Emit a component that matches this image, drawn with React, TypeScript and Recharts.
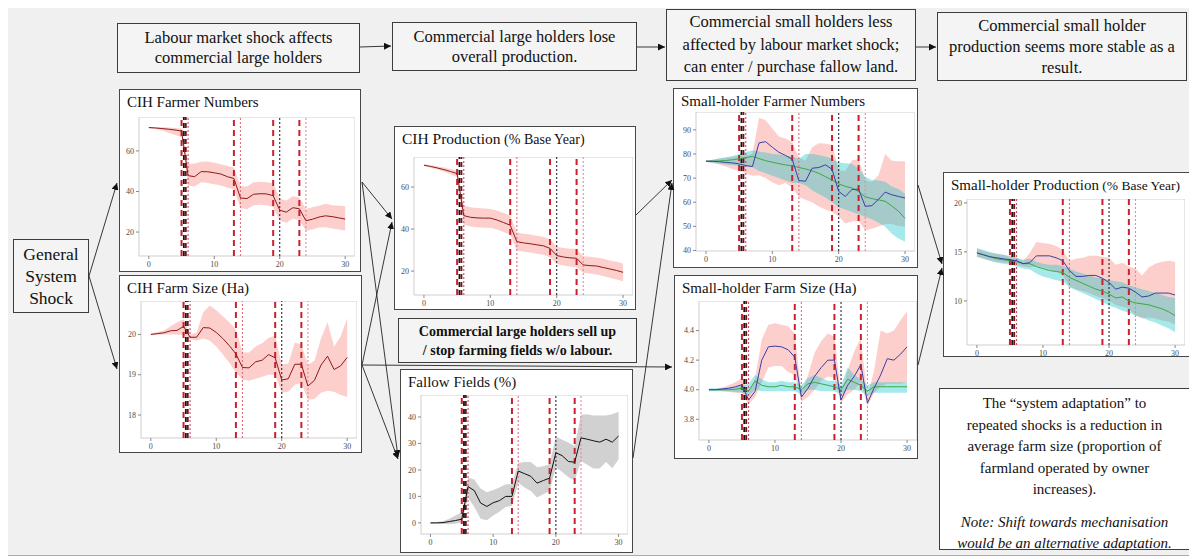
import React from 'react';
import { ComposedChart, Area, Line, XAxis, YAxis, ReferenceLine, ReferenceArea } from 'recharts';

// simulation years 0..30
const YEARS = [0, 1, 2, 3, 4, 5, 6, 7, 8, 9, 10, 11, 12, 13, 14, 15, 16, 17, 18, 19, 20, 21, 22, 23, 24, 25, 26, 27, 28, 29, 30];
const X_TICKS = [0, 10, 20, 30];

// shock markers
const SHOCK_STARTS = [5, 13, 19, 23];
const SHOCK_EXTRA = [5.35, 5.65];
const SHOCK_ENDS = [6, 14, 20, 24];

// CIH Farmer Numbers
const cihFarmersMean = [71.5, 71.3, 71, 70.7, 70.3, 69.8, 47.8, 47.3, 49.8, 49.7, 49.2, 48.6, 47.3, 46.4, 36.8, 36.5, 38.6, 38.9, 38.8, 37.9, 30.8, 29.8, 32.0, 31.5, 25.6, 26.3, 27.4, 28.0, 27.6, 27.0, 26.4];
const cihFarmersHi = [71.8, 71.8, 71.6, 71.5, 71.3, 71.0, 53.5, 53.8, 54.6, 54.8, 54.2, 53.4, 52.6, 51.8, 42.6, 42.4, 44.5, 44.8, 44.6, 44.2, 36.4, 35.6, 37.6, 37.0, 31.4, 32.2, 33.0, 34.0, 33.2, 33.0, 32.8];
const cihFarmersLo = [71.2, 70.8, 70.2, 69.0, 67.8, 66.8, 43.0, 42.4, 44.6, 44.2, 43.6, 43.0, 42.0, 41.0, 31.8, 31.2, 33.2, 33.4, 33.2, 32.2, 25.6, 24.6, 26.6, 26.0, 20.6, 21.2, 22.2, 22.4, 21.8, 21.2, 20.6];

// CIH Farm Size (Ha)
const cihSizeMean = [20.0, 20.02, 20.04, 20.09, 20.1, 20.2, 19.93, 19.93, 20.17, 20.16, 20.05, 19.9, 19.72, 19.52, 19.18, 19.17, 19.32, 19.36, 19.5, 19.42, 18.87, 18.9, 19.26, 19.26, 18.72, 18.86, 19.24, 19.46, 19.13, 19.22, 19.43];
const cihSizeHi = [20.02, 20.06, 20.1, 20.2, 20.3, 20.38, 20.0, 20.05, 20.55, 20.72, 20.6, 20.45, 20.3, 20.12, 19.55, 19.55, 19.7, 19.78, 19.92, 19.97, 19.25, 19.28, 19.8, 19.75, 19.25, 19.35, 19.9, 20.3, 19.7, 19.95, 20.4];
const cihSizeLo = [19.98, 19.99, 20.0, 20.0, 20.0, 19.98, 19.88, 19.85, 19.9, 19.85, 19.7, 19.5, 19.3, 19.05, 18.88, 18.85, 18.9, 18.95, 19.0, 19.0, 18.55, 18.58, 18.75, 18.8, 18.38, 18.4, 18.55, 18.6, 18.58, 18.5, 18.45];

// CIH Production (% base year)
const cihProdMean = [70.4, 69.8, 69.1, 68.3, 67.4, 66.4, 46.4, 45.6, 45.3, 45.2, 45.2, 44.3, 43.1, 41.8, 34.0, 33.4, 33.0, 32.5, 32.0, 30.8, 27.4, 26.7, 26.3, 26.1, 22.9, 22.6, 22.4, 21.7, 21.0, 20.3, 19.4];
const cihProdHi = [70.8, 70.4, 69.9, 69.3, 68.6, 67.8, 51.2, 50.4, 50.0, 49.8, 49.6, 48.8, 47.6, 46.4, 38.4, 37.8, 37.4, 36.8, 36.3, 35.2, 31.6, 31.0, 30.6, 30.6, 27.0, 26.8, 26.5, 25.8, 25.0, 24.4, 23.6];
const cihProdLo = [70.0, 69.2, 68.3, 67.3, 66.1, 64.6, 42.2, 41.2, 40.8, 40.6, 40.6, 39.8, 38.6, 37.4, 29.8, 29.2, 28.8, 28.2, 27.8, 26.6, 23.4, 22.6, 22.2, 21.8, 19.2, 18.8, 18.4, 17.6, 16.8, 16.0, 15.2];

// Fallow Fields (%)
const fallowMean = [0, 0, 0.1, 0.5, 0.9, 1.4, 13.7, 12.2, 7.5, 6.2, 7.6, 8.4, 10.0, 10.0, 19.6, 18.6, 17.6, 15.0, 16.0, 16.9, 26.5, 25.4, 23.2, 22.9, 32.1, 31.6, 31.0, 30.5, 31.6, 30.5, 32.8];
const fallowHi = [0.2, 0.3, 0.6, 1.6, 2.8, 4.0, 17.0, 16.4, 13.0, 11.6, 12.4, 13.4, 14.6, 14.6, 22.6, 23.0, 23.0, 21.0, 21.4, 22.2, 32.6, 31.4, 30.4, 29.0, 40.8, 41.0, 40.6, 40.6, 40.6, 41.0, 42.0];
const fallowLo = [-0.2, -0.3, -0.4, -0.5, -0.3, 0.2, 9.5, 6.0, 1.6, 1.0, 2.8, 4.2, 6.0, 6.4, 15.2, 13.4, 12.0, 9.6, 10.8, 12.0, 21.0, 19.2, 17.2, 16.0, 23.4, 22.0, 20.5, 20.5, 23.0, 20.6, 24.0];

// Small-holder Farmer Numbers
const shFarmersBlue = [77.0, 77.0, 76.8, 76.5, 76.3, 75.9, 75.2, 74.8, 84.6, 85.1, 82.8, 80.7, 79.4, 77.8, 69.0, 68.7, 74.1, 74.4, 75.5, 73.7, 64.5, 62.4, 65.3, 65.4, 58.3, 58.6, 61.2, 64.2, 63.1, 62.4, 61.8];
const shFarmersGreen = [77.0, 77.0, 77.1, 77.3, 77.6, 78.0, 78.5, 79.0, 78.1, 77.2, 76.6, 76.0, 75.5, 75.0, 74.4, 73.8, 73.0, 72.0, 70.6, 69.2, 67.6, 66.6, 65.9, 64.4, 62.3, 61.5, 61.0, 60.4, 58.5, 56.3, 53.3];
const shFarmersRedHi = [77.2, 77.6, 78.0, 78.4, 78.8, 79.2, 79.4, 80.0, 95.0, 94.0, 90.6, 87.2, 86.4, 85.0, 78.4, 77.2, 82.8, 84.5, 84.2, 83.8, 73.2, 73.0, 77.4, 77.8, 69.2, 68.4, 71.2, 80.0, 77.2, 77.0, 77.0];
const shFarmersRedLo = [76.8, 76.2, 75.6, 74.8, 73.8, 73.0, 72.0, 71.0, 71.2, 70.0, 68.2, 67.0, 68.0, 66.0, 62.2, 61.0, 60.0, 58.2, 57.0, 56.0, 54.2, 51.2, 52.0, 52.2, 48.4, 49.0, 50.0, 51.0, 51.0, 50.2, 50.0];
const shFarmersCyanHi = [77.2, 77.6, 78.2, 78.6, 79.2, 80.0, 80.8, 81.5, 81.0, 80.6, 80.0, 79.8, 79.4, 79.0, 78.0, 80.0, 80.0, 79.6, 79.0, 78.0, 76.5, 76.2, 76.0, 74.0, 70.6, 69.2, 69.0, 68.5, 66.5, 65.5, 63.5];
const shFarmersCyanLo = [76.8, 76.4, 76.0, 75.6, 75.3, 75.0, 74.8, 74.5, 73.0, 72.0, 71.0, 70.0, 69.0, 68.0, 68.0, 67.0, 65.0, 63.4, 62.0, 60.0, 58.0, 57.0, 56.0, 55.0, 54.0, 53.0, 51.5, 50.0, 47.0, 45.0, 43.6];

// Small-holder Farm Size (Ha)
const shSizeBlue = [4.0, 4.0, 4.005, 4.01, 4.02, 4.034, 3.93, 3.99, 4.2, 4.29, 4.295, 4.29, 4.27, 4.22, 3.95, 4.01, 4.09, 4.15, 4.2, 4.2, 3.93, 4.03, 4.09, 4.17, 3.91, 4.01, 4.1, 4.21, 4.2, 4.24, 4.29];
const shSizeGreen = [4.0, 4.0, 4.0, 4.0, 4.003, 4.01, 3.99, 4.06, 4.03, 4.02, 4.02, 4.03, 4.02, 4.02, 4.0, 4.04, 4.05, 4.04, 4.03, 4.02, 4.0, 4.07, 4.05, 4.03, 3.99, 4.02, 4.02, 4.02, 4.02, 4.02, 4.02];
const shSizeRedHi = [4.0, 4.005, 4.015, 4.03, 4.05, 4.08, 3.97, 4.08, 4.34, 4.44, 4.45, 4.44, 4.43, 4.38, 3.98, 4.1, 4.25, 4.33, 4.38, 4.36, 3.97, 4.13, 4.26, 4.35, 3.95, 4.13, 4.4, 4.38, 4.4, 4.47, 4.53];
const shSizeRedLo = [4.0, 3.995, 3.99, 3.985, 3.98, 3.98, 3.9, 3.95, 4.05, 4.15, 4.16, 4.16, 4.12, 4.1, 3.92, 3.95, 4.0, 4.06, 4.09, 4.08, 3.91, 3.97, 4.0, 4.05, 3.89, 3.98, 4.02, 4.04, 4.04, 4.04, 4.05];
const shSizeCyanHi = [4.01, 4.01, 4.01, 4.015, 4.02, 4.03, 4.04, 4.1, 4.07, 4.05, 4.05, 4.06, 4.05, 4.05, 4.03, 4.08, 4.1, 4.08, 4.06, 4.06, 4.03, 4.15, 4.1, 4.07, 4.03, 4.05, 4.05, 4.05, 4.05, 4.05, 4.05];
const shSizeCyanLo = [3.99, 3.99, 3.99, 3.99, 3.985, 3.98, 3.96, 4.0, 3.99, 3.99, 3.99, 3.99, 3.99, 3.99, 3.97, 4.0, 4.0, 3.99, 3.99, 3.99, 3.97, 4.0, 4.0, 3.99, 3.96, 3.98, 3.98, 3.98, 3.98, 3.98, 3.98];

// Small-holder Production (% base year)
const shProdBlue = [14.9, 14.7, 14.5, 14.4, 14.3, 14.2, 14.1, 13.8, 13.9, 14.6, 14.6, 14.6, 14.4, 14.1, 13.1, 12.5, 12.5, 12.6, 12.6, 12.3, 11.9, 11.2, 11.4, 11.3, 10.9, 10.4, 10.5, 10.8, 10.8, 10.8, 10.6];
const shProdGreen = [14.9, 14.7, 14.5, 14.3, 14.2, 14.1, 14.0, 13.8, 13.8, 13.5, 13.3, 13.1, 13.0, 12.9, 12.4, 12.1, 11.8, 11.5, 11.2, 11.0, 10.7, 10.3, 10.4, 10.0, 9.8, 9.7, 9.6, 9.4, 9.2, 8.9, 8.5];
const shProdRedHi = [15.3, 15.1, 14.9, 14.8, 14.7, 14.6, 14.4, 14.1, 14.9, 16.0, 15.9, 15.8, 15.6, 15.2, 14.1, 14.3, 14.4, 14.6, 14.6, 14.5, 14.4, 13.7, 13.9, 13.5, 13.3, 12.6, 13.4, 13.8, 14.0, 14.1, 14.0];
const shProdRedLo = [14.5, 14.3, 14.1, 14.0, 13.9, 13.9, 13.7, 13.5, 13.4, 13.6, 13.4, 13.2, 13.0, 12.6, 11.5, 11.2, 11.0, 10.8, 10.5, 10.3, 10.0, 9.6, 9.4, 9.2, 8.5, 8.2, 8.3, 8.2, 8.0, 7.9, 7.6];
const shProdCyanHi = [15.4, 15.2, 15.0, 14.8, 14.7, 14.5, 14.4, 14.2, 14.3, 14.0, 13.8, 13.7, 13.7, 13.6, 13.3, 13.0, 12.8, 12.6, 12.4, 12.3, 12.1, 12.0, 11.9, 11.6, 11.4, 11.2, 11.0, 10.8, 10.6, 10.4, 10.3];
const shProdCyanLo = [14.5, 14.3, 14.1, 13.9, 13.8, 13.7, 13.5, 13.3, 13.2, 12.8, 12.5, 12.3, 12.1, 12.0, 11.4, 11.1, 10.8, 10.5, 10.2, 9.9, 9.5, 9.3, 9.0, 8.8, 8.5, 8.3, 8.0, 7.8, 7.5, 7.2, 6.8];

const SERIF = '"Liberation Serif", "DejaVu Serif", serif';
const RED_FILL = '#F8766D';
const CYAN_FILL = '#00BFC4';
const END_COLORS = ['#c8506a', '#e0707f', '#2a2a35', '#e88a98'];

type Band = { key: string; lo: number[]; hi: number[]; fill: string; opacity: number };
type Mean = { key: string; values: number[]; stroke: string };

interface PanelProps {
  title: string;
  sub?: string;
  titleSize: number;
  box: [number, number, number, number];
  plot: [number, number, number, number];
  yDomain: [number, number];
  yTicks: number[];
  decimals?: number;
  bands: Band[];
  means: Mean[];
}

const YW = 22;
const XH = 14;

function ChartPanel({ title, sub, titleSize, box, plot, yDomain, yTicks, decimals = 0, bands, means }: PanelProps) {
  const data = YEARS.map((yr, i) => {
    const row: Record<string, number | number[]> = { year: yr };
    for (const b of bands) row[b.key] = [b.lo[i], b.hi[i]];
    for (const m of means) row[m.key] = m.values[i];
    return row;
  });

  const xTick = (p: any) => (
    <text x={p.x} y={p.y} dy="0.72em" textAnchor="middle" fontSize={8} fill="#4d4d4d" fontFamily={SERIF}>
      {p.payload.value}
    </text>
  );
  const yTick = (p: any) => (
    <text x={p.x} y={p.y} dy="0.34em" textAnchor="end" fontSize={8} fill="#4d4d4d" fontFamily={SERIF}>
      {Number(p.payload.value).toFixed(decimals)}
    </text>
  );

  return (
    <>
      <div
        style={{
          position: 'absolute',
          left: box[0],
          top: box[1],
          width: box[2],
          height: box[3],
          border: '1.5px solid #474747',
          background: '#fff',
          boxSizing: 'border-box',
        }}
      >
        <div style={{ position: 'absolute', left: 7, top: 3, fontSize: titleSize, lineHeight: '18px', whiteSpace: 'nowrap', color: '#111' }}>
          {title}
          {sub ? <span style={{ fontSize: titleSize - 1.5 }}> {sub}</span> : null}
        </div>
      </div>
      <div style={{ position: 'absolute', left: plot[0] - YW, top: plot[1] }}>
        <ComposedChart width={plot[2] + YW} height={plot[3] + XH} data={data} margin={{ top: 0, right: 0, bottom: 0, left: 0 }}>
          <XAxis
            dataKey="year"
            type="number"
            domain={[-1.5, 31.5]}
            ticks={X_TICKS}
            interval={0}
            allowDataOverflow
            height={XH}
            tickSize={3}
            axisLine={false}
            stroke="#888"
            tickLine={{ stroke: '#888' }}
            tick={xTick}
          />
          <YAxis
            type="number"
            domain={yDomain}
            ticks={yTicks}
            interval={0}
            allowDataOverflow
            width={YW}
            tickSize={3}
            axisLine={false}
            stroke="#888"
            tickLine={{ stroke: '#888' }}
            tick={yTick}
          />
          <ReferenceArea x1={-1.5} x2={31.5} y1={yDomain[0]} y2={yDomain[1]} fill="#fff" fillOpacity={0} stroke="#cfcfcf" />
          {bands.map((b) => (
            <Area
              key={b.key}
              type="linear"
              dataKey={b.key}
              stroke="none"
              fill={b.fill}
              fillOpacity={b.opacity}
              isAnimationActive={false}
              dot={false}
              activeDot={false}
            />
          ))}
          {SHOCK_STARTS.map((x) => (
            <ReferenceLine key={`s${x}`} x={x} stroke="#c8202e" strokeWidth={2} strokeDasharray="6 4" />
          ))}
          {SHOCK_EXTRA.map((x, i) => (
            <ReferenceLine key={`e${x}`} x={x} stroke={i === 0 ? '#151515' : '#7a0c14'} strokeWidth={1.8} strokeDasharray="5 3" />
          ))}
          {SHOCK_ENDS.map((x, i) => (
            <ReferenceLine key={`d${x}`} x={x} stroke={END_COLORS[i]} strokeWidth={1.1} strokeDasharray="2 2" />
          ))}
          {means.map((m) => (
            <Line
              key={m.key}
              type="linear"
              dataKey={m.key}
              stroke={m.stroke}
              strokeWidth={1}
              dot={false}
              activeDot={false}
              isAnimationActive={false}
            />
          ))}
        </ComposedChart>
      </div>
    </>
  );
}

type Pt = [number, number];
const ARROWS: Array<[Pt, Pt]> = [
  [[360, 47], [391, 46]],
  [[637, 47], [665, 47]],
  [[916, 47], [936, 47]],
  [[89, 276], [117, 183]],
  [[89, 276], [117, 369]],
  [[362, 182], [392, 219]],
  [[362, 182], [398, 457]],
  [[362, 365], [392, 222]],
  [[362, 365], [398, 459]],
  [[362, 365], [672, 367]],
  [[636, 215], [672, 180]],
  [[633, 458], [672, 183]],
  [[918, 185], [942, 264]],
  [[918, 365], [942, 268]],
];

function TextBox({ x, y, w, h, lines, size, lh, weight }: { x: number; y: number; w: number; h: number; lines: string[]; size: number; lh: number; weight?: number }) {
  return (
    <div
      style={{
        position: 'absolute',
        left: x,
        top: y,
        width: w,
        height: h,
        border: '1.2px solid #3c3c3c',
        background: '#f4f4f4',
        boxSizing: 'border-box',
        display: 'flex',
        flexDirection: 'column',
        justifyContent: 'center',
        alignItems: 'center',
        fontSize: size,
        lineHeight: `${lh}px`,
        fontWeight: weight ?? 400,
        color: '#111',
        textAlign: 'center',
      }}
    >
      {lines.map((l) => (
        <div key={l} style={{ whiteSpace: 'nowrap' }}>{l}</div>
      ))}
    </div>
  );
}

export default function App() {
  return (
    <div style={{ position: 'relative', width: 1197, height: 559, margin: '-8px 0 0 -8px', background: '#fff', fontFamily: SERIF, overflow: 'hidden' }}>
      <div style={{ position: 'absolute', left: 4, top: 6, width: 1191, height: 550, background: '#f0f0f0', border: '1.5px solid #a3adc2', boxSizing: 'border-box' }} />

      <TextBox x={117} y={23} w={243} h={50} lines={['Labour market shock affects', 'commercial large holders']} size={16.5} lh={20} />
      <TextBox x={392} y={22} w={245} h={49} lines={['Commercial large holders lose', 'overall production.']} size={16.5} lh={20} />
      <TextBox x={666} y={9} w={250} h={72} lines={['Commercial small holders less', 'affected by labour market shock;', 'can enter / purchase fallow land.']} size={16.5} lh={22.5} />
      <TextBox x={937} y={12} w={250} h={69} lines={['Commercial small holder', 'production seems more stable as a', 'result.']} size={16.5} lh={21} />
      <TextBox x={13} y={239} w={76} h={74} lines={['General', 'System', 'Shock']} size={17.5} lh={22} />
      <TextBox x={398} y={318} w={239} h={45} lines={['Commercial large holders sell up', '/ stop farming fields w/o labour.']} size={14} lh={19} weight={700} />

      <div
        style={{
          position: 'absolute',
          left: 939,
          top: 388,
          width: 251,
          height: 162,
          border: '1.2px solid #3c3c3c',
          background: '#fff',
          boxSizing: 'border-box',
          textAlign: 'center',
          fontSize: 15,
          lineHeight: '21.5px',
          color: '#111',
          paddingTop: 4,
        }}
      >
        <div>The “system adaptation” to</div>
        <div>repeated shocks is a reduction in</div>
        <div>average farm size (proportion of</div>
        <div>farmland operated by owner</div>
        <div>increases).</div>
        <div style={{ fontStyle: 'italic', marginTop: 11 }}>Note: Shift towards mechanisation</div>
        <div style={{ fontStyle: 'italic' }}>would be an alternative adaptation.</div>
      </div>

      <ChartPanel
        title="CIH Farmer Numbers"
        titleSize={15}
        box={[119, 89, 242, 183]}
        plot={[139, 117, 216, 139]}
        yDomain={[8.2, 76.7]}
        yTicks={[20, 40, 60]}
        bands={[{ key: 'r', lo: cihFarmersLo, hi: cihFarmersHi, fill: RED_FILL, opacity: 0.35 }]}
        means={[{ key: 'm', values: cihFarmersMean, stroke: '#8b1a1a' }]}
      />
      <ChartPanel
        title="CIH Farm Size (Ha)"
        titleSize={15}
        box={[119, 275, 243, 178]}
        plot={[141, 301, 216, 137]}
        yDomain={[17.43, 20.83]}
        yTicks={[18, 19, 20]}
        bands={[{ key: 'r', lo: cihSizeLo, hi: cihSizeHi, fill: RED_FILL, opacity: 0.35 }]}
        means={[{ key: 'm', values: cihSizeMean, stroke: '#8b1a1a' }]}
      />
      <ChartPanel
        title="CIH Production"
        sub="(% Base Year)"
        titleSize={15.5}
        box={[394, 126, 242, 184]}
        plot={[414, 157, 219, 138]}
        yDomain={[8.6, 74.3]}
        yTicks={[20, 40, 60]}
        bands={[{ key: 'r', lo: cihProdLo, hi: cihProdHi, fill: RED_FILL, opacity: 0.35 }]}
        means={[{ key: 'm', values: cihProdMean, stroke: '#8b1a1a' }]}
      />
      <ChartPanel
        title="Fallow Fields (%)"
        titleSize={15}
        box={[400, 369, 233, 184]}
        plot={[421, 395, 207, 139]}
        yDomain={[-4.2, 48.3]}
        yTicks={[0, 10, 20, 30, 40]}
        bands={[{ key: 'g', lo: fallowLo, hi: fallowHi, fill: '#9a9a9a', opacity: 0.45 }]}
        means={[{ key: 'm', values: fallowMean, stroke: '#111' }]}
      />
      <ChartPanel
        title="Small-holder Farmer Numbers"
        titleSize={15}
        box={[673, 88, 245, 180]}
        plot={[696, 112, 219, 139]}
        yDomain={[39.8, 97.4]}
        yTicks={[40, 50, 60, 70, 80, 90]}
        bands={[
          { key: 'r', lo: shFarmersRedLo, hi: shFarmersRedHi, fill: RED_FILL, opacity: 0.35 },
          { key: 'c', lo: shFarmersCyanLo, hi: shFarmersCyanHi, fill: CYAN_FILL, opacity: 0.35 },
        ]}
        means={[
          { key: 'g', values: shFarmersGreen, stroke: '#3aa845' },
          { key: 'b', values: shFarmersBlue, stroke: '#3a3fa6' },
        ]}
      />
      <ChartPanel
        title="Small-holder Farm Size (Ha)"
        titleSize={15}
        box={[674, 275, 244, 184]}
        plot={[699, 301, 218, 139]}
        yDomain={[3.66, 4.6]}
        yTicks={[3.8, 4.0, 4.2, 4.4]}
        decimals={1}
        bands={[
          { key: 'r', lo: shSizeRedLo, hi: shSizeRedHi, fill: RED_FILL, opacity: 0.35 },
          { key: 'c', lo: shSizeCyanLo, hi: shSizeCyanHi, fill: CYAN_FILL, opacity: 0.35 },
        ]}
        means={[
          { key: 'g', values: shSizeGreen, stroke: '#3aa845' },
          { key: 'b', values: shSizeBlue, stroke: '#3a3fa6' },
        ]}
      />
      <ChartPanel
        title="Small-holder Production"
        sub="(% Base Year)"
        titleSize={15}
        box={[943, 172, 249, 185]}
        plot={[967, 199, 218, 146]}
        yDomain={[5.5, 20.4]}
        yTicks={[10, 15, 20]}
        bands={[
          { key: 'r', lo: shProdRedLo, hi: shProdRedHi, fill: RED_FILL, opacity: 0.35 },
          { key: 'c', lo: shProdCyanLo, hi: shProdCyanHi, fill: CYAN_FILL, opacity: 0.35 },
        ]}
        means={[
          { key: 'g', values: shProdGreen, stroke: '#3aa845' },
          { key: 'b', values: shProdBlue, stroke: '#3a3fa6' },
        ]}
      />

      <svg width={1197} height={559} style={{ position: 'absolute', left: 0, top: 0, pointerEvents: 'none' }}>
        <defs>
          <marker id="ah" viewBox="0 0 10 10" refX="10" refY="5" markerWidth="7" markerHeight="7" orient="auto" markerUnits="userSpaceOnUse">
            <path d="M0,0 L10,5 L0,10 z" fill="#111" />
          </marker>
        </defs>
        {ARROWS.map(([a, b], i) => (
          <line key={i} x1={a[0]} y1={a[1]} x2={b[0]} y2={b[1]} stroke="#222" strokeWidth={0.9} markerEnd="url(#ah)" />
        ))}
      </svg>
    </div>
  );
}
